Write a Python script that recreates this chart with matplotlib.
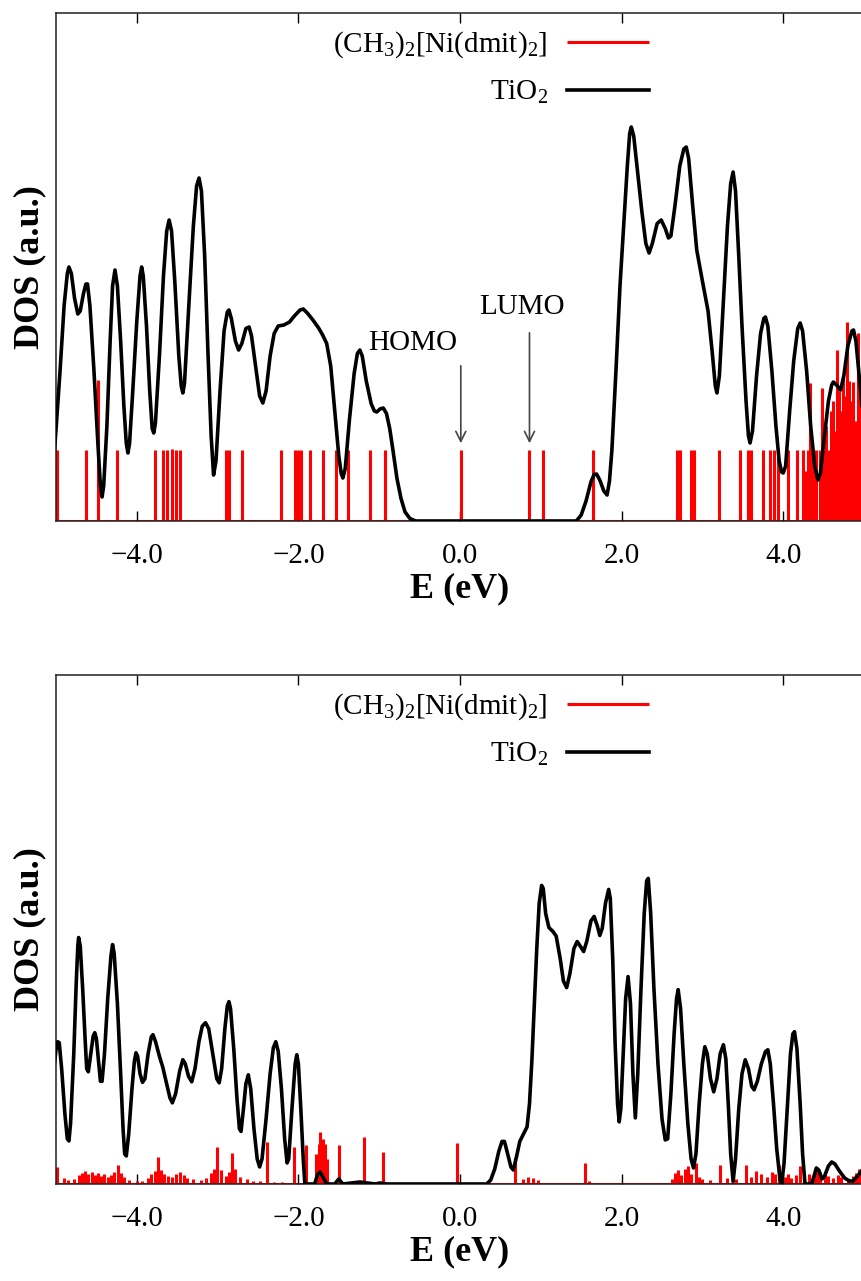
import matplotlib
matplotlib.use("Agg")
import matplotlib.pyplot as plt
from matplotlib.ticker import FuncFormatter, MultipleLocator

plt.rcParams['font.family'] = ['Liberation Serif', 'DejaVu Serif']
plt.rcParams['mathtext.fontset'] = 'custom'
plt.rcParams['mathtext.rm'] = 'Liberation Serif'
plt.rcParams['mathtext.it'] = 'Liberation Serif:italic'

# ---- panel (a): TiO2 DOS (E in eV, DOS in a.u.)
tio2_a_E = [-5.02, -5.00, -4.95, -4.90, -4.86, -4.84, -4.81, -4.77, -4.73, -4.70,
            -4.66, -4.63, -4.61, -4.58, -4.53, -4.48, -4.45, -4.43, -4.41, -4.37,
            -4.33, -4.30, -4.27, -4.24, -4.20, -4.16, -4.13, -4.11, -4.09, -4.05,
            -4.00, -3.96, -3.94, -3.92, -3.88, -3.84, -3.81, -3.79, -3.77, -3.72,
            -3.67, -3.63, -3.60, -3.57, -3.53, -3.48, -3.45, -3.43, -3.41, -3.36,
            -3.30, -3.26, -3.23, -3.20, -3.16, -3.12, -3.08, -3.05, -3.02, -2.97,
            -2.92, -2.88, -2.86, -2.83, -2.78, -2.74, -2.70, -2.65, -2.61, -2.58,
            -2.53, -2.48, -2.44, -2.40, -2.35, -2.30, -2.25, -2.18, -2.11, -2.05,
            -1.98, -1.94, -1.89, -1.82, -1.75, -1.70, -1.65, -1.60, -1.55, -1.50,
            -1.47, -1.45, -1.42, -1.37, -1.31, -1.27, -1.24, -1.21, -1.16, -1.10,
            -1.06, -1.03, -0.99, -0.95, -0.91, -0.87, -0.83, -0.78, -0.73, -0.68,
            -0.62, -0.55, 1.44, 1.50, 1.56, 1.62, 1.66, 1.69, 1.73, 1.78,
            1.82, 1.85, 1.88, 1.93, 1.98, 2.02, 2.07, 2.10, 2.12, 2.15,
            2.20, 2.25, 2.30, 2.34, 2.38, 2.44, 2.49, 2.54, 2.58, 2.61,
            2.66, 2.72, 2.77, 2.80, 2.83, 2.88, 2.93, 3.00, 3.07, 3.12,
            3.16, 3.18, 3.21, 3.26, 3.31, 3.35, 3.38, 3.41, 3.45, 3.49,
            3.54, 3.57, 3.59, 3.62, 3.67, 3.72, 3.76, 3.78, 3.81, 3.86,
            3.91, 3.95, 3.98, 4.00, 4.03, 4.08, 4.13, 4.18, 4.21, 4.24,
            4.29, 4.34, 4.39, 4.43, 4.46, 4.51, 4.56, 4.60, 4.62, 4.66,
            4.71, 4.75, 4.80, 4.85, 4.87, 4.90, 4.94, 4.98, 5.02]
tio2_a_D = [1.40, 1.82, 3.00, 4.30, 4.95, 5.08, 4.95, 4.45, 4.14, 4.20,
            4.55, 4.74, 4.74, 4.30, 3.00, 1.50, 0.70, 0.48, 0.70, 1.90,
            3.60, 4.70, 5.02, 4.70, 3.60, 2.30, 1.55, 1.36, 1.55, 2.60,
            4.00, 4.90, 5.08, 4.90, 3.90, 2.60, 1.85, 1.76, 1.95, 3.30,
            4.90, 5.80, 6.02, 5.80, 4.80, 3.30, 2.70, 2.56, 2.75, 4.20,
            5.90, 6.70, 6.86, 6.60, 5.30, 3.40, 1.70, 0.92, 1.20, 2.60,
            3.80, 4.18, 4.22, 4.05, 3.60, 3.42, 3.55, 3.85, 3.88, 3.70,
            3.10, 2.50, 2.36, 2.60, 3.30, 3.75, 3.90, 3.92, 3.98, 4.10,
            4.22, 4.24, 4.16, 4.02, 3.86, 3.72, 3.55, 3.10, 2.20, 1.30,
            0.95, 0.86, 1.05, 2.00, 2.95, 3.35, 3.42, 3.30, 2.80, 2.35,
            2.20, 2.18, 2.24, 2.26, 2.15, 1.85, 1.42, 0.85, 0.45, 0.18,
            0.05, 0.00, 0.00, 0.12, 0.40, 0.78, 0.93, 0.94, 0.82, 0.60,
            0.52, 0.80, 1.42, 3.00, 4.70, 5.76, 7.08, 7.75, 7.88, 7.70,
            6.95, 6.20, 5.55, 5.36, 5.55, 5.95, 6.02, 5.85, 5.66, 5.70,
            6.30, 7.10, 7.44, 7.48, 7.25, 6.30, 5.42, 4.80, 4.20, 3.40,
            2.70, 2.56, 2.90, 4.40, 5.90, 6.75, 6.98, 6.60, 5.30, 3.90,
            2.40, 1.70, 1.56, 1.80, 2.90, 3.75, 4.05, 4.08, 3.90, 3.00,
            1.90, 1.20, 0.98, 0.96, 1.10, 2.20, 3.20, 3.85, 3.96, 3.80,
            3.00, 1.90, 1.10, 0.82, 0.95, 1.70, 2.40, 2.72, 2.78, 2.72,
            2.62, 2.90, 3.50, 3.80, 3.82, 3.60, 2.90, 2.22, 1.60]

# molecule levels in panel (a)
mol_a_E = [-4.99, -4.63, -4.48, -4.25, -3.78, -3.68, -3.63, -3.57, -3.52, -3.47,
           -2.90, -2.86, -2.70, -2.22, -2.04, -2.01, -1.97, -1.86, -1.70, -1.53,
           -1.39, -1.12, -0.93, 0.01, 0.86, 1.03, 1.65, 2.69, 2.72, 2.86,
           2.89, 3.20, 3.47, 3.57, 3.60, 3.75, 3.84, 3.88, 3.94, 4.06,
           4.17, 4.25, 4.28, 4.31, 4.33, 4.36, 4.39, 4.41, 4.45, 4.48,
           4.51, 4.53, 4.56, 4.59, 4.62, 4.64, 4.67, 4.69, 4.72, 4.74,
           4.77, 4.79, 4.81, 4.84, 4.87, 4.90, 4.93, 4.95, 4.98]
mol_a_D = [1.42, 1.42, 2.82, 1.42, 1.42, 1.42, 1.42, 1.45, 1.42, 1.42,
           1.42, 1.42, 1.42, 1.42, 1.42, 1.42, 1.42, 1.42, 1.42, 1.42,
           1.42, 1.42, 1.42, 1.42, 1.42, 1.42, 1.42, 1.42, 1.42, 1.42,
           1.42, 1.42, 1.42, 1.42, 1.42, 1.42, 1.42, 1.42, 1.42, 1.42,
           1.42, 1.42, 1.00, 1.42, 2.76, 1.42, 1.20, 1.42, 1.42, 2.66,
           1.42, 1.90, 1.42, 2.20, 2.40, 1.80, 3.42, 2.60, 2.20, 2.90,
           2.50, 3.98, 2.80, 2.40, 2.78, 2.00, 3.76, 2.60, 3.42]

# ---- panel (b)
tio2_b_E = [-5.02, -5.00, -4.98, -4.96, -4.93, -4.89, -4.86, -4.84, -4.82, -4.78,
            -4.75, -4.73, -4.72, -4.70, -4.67, -4.64, -4.62, -4.60, -4.57, -4.54,
            -4.52, -4.50, -4.47, -4.45, -4.43, -4.40, -4.36, -4.32, -4.30, -4.28,
            -4.24, -4.20, -4.17, -4.15, -4.13, -4.10, -4.06, -4.03, -4.01, -3.99,
            -3.96, -3.93, -3.90, -3.86, -3.82, -3.80, -3.77, -3.72, -3.68, -3.63,
            -3.59, -3.56, -3.52, -3.47, -3.43, -3.40, -3.36, -3.32, -3.28, -3.23,
            -3.19, -3.15, -3.11, -3.06, -3.01, -2.98, -2.95, -2.91, -2.88, -2.86,
            -2.84, -2.80, -2.76, -2.73, -2.71, -2.68, -2.65, -2.62, -2.59, -2.55,
            -2.51, -2.48, -2.45, -2.40, -2.35, -2.31, -2.28, -2.25, -2.21, -2.17,
            -2.14, -2.12, -2.08, -2.04, -2.02, -2.00, -1.97, -1.94, -1.92, -1.80,
            -1.76, -1.73, -1.70, -1.65, -1.55, -1.50, -1.45, -1.24, -1.05, -0.99,
            -0.90, 0.33, 0.38, 0.43, 0.48, 0.52, 0.55, 0.59, 0.63, 0.66,
            0.70, 0.74, 0.78, 0.83, 0.86, 0.89, 0.92, 0.95, 0.98, 1.01,
            1.03, 1.06, 1.10, 1.15, 1.19, 1.24, 1.28, 1.32, 1.36, 1.41,
            1.45, 1.50, 1.53, 1.57, 1.62, 1.66, 1.70, 1.73, 1.76, 1.80,
            1.84, 1.86, 1.89, 1.92, 1.95, 1.97, 1.99, 2.02, 2.05, 2.08,
            2.11, 2.14, 2.17, 2.20, 2.24, 2.28, 2.31, 2.33, 2.36, 2.40,
            2.45, 2.50, 2.54, 2.57, 2.61, 2.65, 2.68, 2.70, 2.73, 2.77,
            2.82, 2.86, 2.89, 2.92, 2.96, 3.00, 3.03, 3.06, 3.10, 3.14,
            3.18, 3.22, 3.26, 3.29, 3.32, 3.35, 3.38, 3.41, 3.45, 3.49,
            3.53, 3.57, 3.61, 3.64, 3.68, 3.73, 3.78, 3.81, 3.84, 3.88,
            3.92, 3.96, 3.98, 4.01, 4.05, 4.09, 4.12, 4.14, 4.17, 4.21,
            4.24, 4.27, 4.35, 4.38, 4.41, 4.44, 4.48, 4.51, 4.56, 4.60,
            4.64, 4.70, 4.76, 4.82, 4.86, 4.90, 4.95, 4.98, 5.02]
tio2_b_D = [2.40, 2.68, 2.84, 2.82, 2.30, 1.40, 0.90, 0.86, 1.20, 2.60,
            4.00, 4.75, 4.92, 4.75, 3.90, 2.90, 2.30, 2.24, 2.60, 2.95,
            3.02, 2.90, 2.40, 2.05, 2.05, 2.60, 3.70, 4.55, 4.78, 4.60,
            3.60, 2.20, 1.10, 0.60, 0.56, 1.00, 1.90, 2.45, 2.62, 2.55,
            2.20, 2.03, 2.10, 2.60, 2.94, 2.98, 2.85, 2.55, 2.34, 2.00,
            1.72, 1.62, 1.80, 2.25, 2.48, 2.40, 2.15, 2.04, 2.30, 2.85,
            3.15, 3.22, 3.10, 2.60, 2.10, 2.02, 2.30, 3.10, 3.55, 3.64,
            3.50, 2.70, 1.70, 1.10, 1.05, 1.50, 2.00, 2.18, 1.90, 1.10,
            0.50, 0.34, 0.50, 1.30, 2.20, 2.72, 2.84, 2.65, 1.90, 0.90,
            0.42, 0.50, 1.50, 2.40, 2.58, 2.40, 1.50, 0.50, 0.00, 0.00,
            0.20, 0.24, 0.15, 0.00, 0.00, 0.10, 0.00, 0.04, 0.00, 0.02,
            0.00, 0.00, 0.08, 0.30, 0.65, 0.85, 0.85, 0.60, 0.34, 0.28,
            0.55, 0.85, 0.98, 1.14, 1.60, 2.48, 3.60, 4.70, 5.60, 5.96,
            5.90, 5.40, 5.12, 5.04, 4.95, 4.50, 4.05, 3.92, 4.20, 4.70,
            4.84, 4.72, 4.64, 4.85, 5.25, 5.34, 5.15, 4.96, 5.10, 5.60,
            5.88, 5.70, 4.50, 2.80, 1.60, 1.24, 1.50, 2.60, 3.70, 4.14,
            3.60, 2.20, 1.32, 2.20, 3.90, 5.40, 6.05, 6.10, 5.40, 3.90,
            2.40, 1.30, 0.88, 0.90, 1.80, 3.00, 3.70, 3.88, 3.50, 2.40,
            1.20, 0.50, 0.32, 0.60, 1.60, 2.40, 2.74, 2.60, 2.10, 1.84,
            2.10, 2.60, 2.78, 2.50, 1.60, 0.60, 0.05, 0.50, 1.50, 2.20,
            2.48, 2.30, 1.95, 1.88, 2.05, 2.40, 2.64, 2.68, 2.40, 1.60,
            0.70, 0.10, 0.00, 0.40, 1.50, 2.60, 3.00, 3.04, 2.70, 1.60,
            0.60, 0.00, 0.00, 0.15, 0.32, 0.28, 0.10, 0.15, 0.36, 0.44,
            0.40, 0.25, 0.12, 0.06, 0.06, 0.12, 0.22, 0.28, 0.36]

mol_b_E = [-4.99, -4.90, -4.85, -4.78, -4.72, -4.68, -4.64, -4.60, -4.56, -4.52,
           -4.48, -4.44, -4.40, -4.36, -4.32, -4.28, -4.23, -4.20, -4.16, -4.10,
           -4.00, -3.94, -3.86, -3.82, -3.78, -3.74, -3.70, -3.66, -3.62, -3.56,
           -3.52, -3.46, -3.42, -3.38, -3.30, -3.20, -3.14, -3.08, -3.04, -3.01,
           -2.96, -2.90, -2.86, -2.82, -2.78, -2.72, -2.64, -2.56, -2.48, -2.39,
           -2.30, -2.20, -2.06, -1.91, -1.78, -1.75, -1.73, -1.70, -1.67, -1.65,
           -1.50, -1.19, -0.95, -0.04, 0.68, 0.78, 0.84, 0.90, 0.96, 1.55,
           1.60, 2.62, 2.66, 2.70, 2.74, 2.78, 2.82, 2.86, 2.92, 2.96,
           3.00, 3.10, 3.22, 3.30, 3.42, 3.54, 3.60, 3.66, 3.72, 3.80,
           3.86, 3.90, 3.95, 4.02, 4.06, 4.10, 4.16, 4.21, 4.26, 4.32,
           4.38, 4.42, 4.46, 4.52, 4.56, 4.62, 4.68, 4.72, 4.80, 4.86,
           4.90, 4.94, 4.98]
mol_b_D = [0.34, 0.12, 0.08, 0.10, 0.18, 0.22, 0.26, 0.20, 0.24, 0.18,
           0.22, 0.16, 0.20, 0.14, 0.18, 0.24, 0.38, 0.22, 0.14, 0.08,
           0.06, 0.06, 0.12, 0.20, 0.26, 0.54, 0.28, 0.20, 0.16, 0.14,
           0.20, 0.24, 0.18, 0.12, 0.10, 0.08, 0.12, 0.22, 0.30, 0.74,
           0.28, 0.16, 0.24, 0.62, 0.30, 0.14, 0.10, 0.06, 0.06, 0.84,
           0.04, 0.04, 0.74, 0.78, 0.60, 0.80, 1.04, 0.90, 0.80, 0.50,
           0.78, 0.94, 0.64, 0.82, 0.52, 0.10, 0.14, 0.12, 0.08, 0.42,
           0.06, 0.10, 0.22, 0.28, 0.18, 0.30, 0.36, 0.20, 0.42, 0.14,
           0.10, 0.08, 0.38, 0.12, 0.10, 0.38, 0.14, 0.26, 0.20, 0.14,
           0.24, 0.20, 0.38, 0.14, 0.20, 0.12, 0.18, 0.36, 0.16, 0.20,
           0.22, 0.30, 0.24, 0.20, 0.16, 0.12, 0.18, 0.14, 0.10, 0.16,
           0.22, 0.30, 0.26]

mol_label = r'(CH$_\mathregular{3}$)$_\mathregular{2}$[Ni(dmit)$_\mathregular{2}$]'
tio2_label = r'TiO$_\mathregular{2}$'


def fmt(x, pos):
    return f'{x:.1f}'.replace('-', '\u2212')


def setup(ax):
    ax.set_xlim(-5.0, 5.0)
    ax.set_ylim(0, 10.16)
    ax.xaxis.set_major_locator(MultipleLocator(2.0))
    ax.xaxis.set_major_formatter(FuncFormatter(fmt))
    ax.tick_params(axis='x', direction='in', top=True, length=7, width=1,
                   labelsize=21, pad=16)
    ax.set_yticks([])
    for s in ax.spines.values():
        s.set_linewidth(1.1)
        s.set_color('#222222')
    ax.set_xlabel('E (eV)', fontsize=26, fontweight='bold', labelpad=2)
    ax.set_ylabel('DOS (a.u.)', fontsize=26, fontweight='bold', labelpad=7)


def draw(ax, mol_E, mol_D, tio_E, tio_D):
    ax.axhline(0, color='red', lw=1.5, zorder=1)
    ax.vlines(mol_E, 0, mol_D, colors='red', lw=2.2, zorder=2, label=mol_label)
    ax.plot(tio_E, tio_D, color='black', lw=2.6, zorder=3, label=tio2_label,
            solid_joinstyle='round')
    ax.legend(loc='upper right', bbox_to_anchor=(0.734, 0.967), frameon=False,
              markerfirst=False, fontsize=21, handlelength=2.82, handletextpad=0.65,
              labelspacing=0.63, borderpad=0, borderaxespad=0)


fig = plt.figure(figsize=(8.62, 12.81), dpi=100)
ax1 = fig.add_axes([56 / 862, 1 - 521 / 1281, 808 / 862, 508 / 1281])
ax2 = fig.add_axes([56 / 862, 1 - 1184 / 1281, 808 / 862, 509 / 1281])

draw(ax1, mol_a_E, mol_a_D, tio2_a_E, tio2_a_D)
draw(ax2, mol_b_E, mol_b_D, tio2_b_E, tio2_b_D)
setup(ax1)
setup(ax2)

# HOMO / LUMO markers
arrow = dict(arrowstyle='->', color='#444444', lw=1.2, mutation_scale=18)
ax1.annotate('', xy=(0.01, 1.50), xytext=(0.01, 3.16), arrowprops=arrow)
ax1.annotate('', xy=(0.86, 1.50), xytext=(0.86, 3.82), arrowprops=arrow)
ax1.text(-0.58, 3.56, 'HOMO', fontsize=21, ha='center', va='center')
ax1.text(0.77, 4.28, 'LUMO', fontsize=21, ha='center', va='center')

fig.savefig('out.png', dpi=100)
